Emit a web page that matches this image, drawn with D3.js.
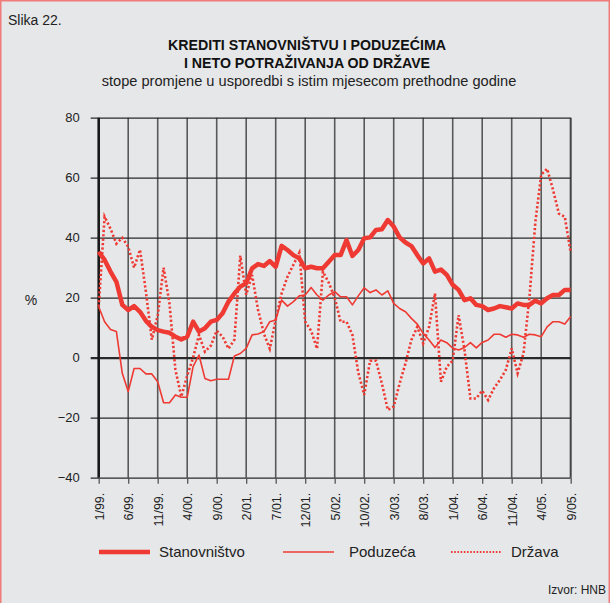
<!DOCTYPE html>
<html>
<head>
<meta charset="utf-8">
<script src="https://cdn.jsdelivr.net/npm/d3@7"></script>
<style>
  body { margin: 0; background: #fff; }
  svg { display: block; font-family: "Liberation Sans", Arial, sans-serif; }
</style>
</head>
<body>
<svg id="chart" width="610" height="603"></svg>
<script>
// monthly data, 1/99 .. 9/05
let tickLabels = ['1/99.', '6/99.', '11/99.', '4/00.', '9/00.', '2/01.', '7/01.', '12/01.', '5/02.',
  '10/02.', '3/03.', '8/03.', '1/04.', '6/04.', '11/04.', '4/05.', '9/05.']

let stanovnistvo = [35.3, 32.6, 28.7, 25.3, 17.6, 15.9, 17.2, 15.3, 12.3, 10.3,
  9.2, 8.7, 8.3, 7, 6.1, 7, 12, 8.7, 9.8, 12,
  12.6, 14.8, 18.7, 21.4, 23.7, 24.8, 29.8, 31.2, 30.6, 32.2,
  30.3, 37.3, 35.9, 34.2, 33.1, 29.8, 30.3, 29.8, 29.8, 32,
  34.2, 34.2, 39.2, 33.9, 35.9, 39.8, 40.1, 42.6, 42.8, 45.9,
  43.7, 40.1, 38.4, 37.2, 34.2, 31.4, 33.1, 28.7, 29.4, 27.6,
  24.3, 22.6, 19.2, 19.8, 17.6, 17.2, 15.9, 16.4, 17.2, 16.8,
  16.4, 18.1, 17.6, 17.6, 19, 18.1, 19.8, 20.9, 20.9, 22.6, 22.6]

let poduzeca = [17, 12, 9.4, 8.7, -5.2, -11.3, -3.6, -3.6, -5.4, -5.4,
  -8, -15, -15, -12.4, -13.2, -13.2, -3, 0.9, -6.9, -7.7,
  -7.2, -7.2, -7.2, 0.6, 1.4, 3.1, 7.6, 7.9, 8.7, 12,
  12.6, 19.2, 17.2, 18.7, 20.6, 20.9, 23.4, 20.9, 19.2, 20.9,
  22, 20.3, 20.3, 17.6, 20.6, 23.3, 21.7, 22.6, 20.9, 22.3,
  18.1, 16.4, 15.3, 13.1, 11.2, 8.1, 5.9, 3.4, 5.9, 5,
  3.2, 2.6, 3.4, 5, 3.3, 5.1, 5.9, 7.8, 7.8, 6.8,
  7.8, 7.6, 6.8, 7.8, 7.6, 7, 10.3, 12, 12, 11.2, 13.7]

let drzava = [17, 47, 43, 38, 40, 37, 30, 36, 22, 6,
  14, 30, 18, -4, -13, -6, 0, 7.6, 2, 4,
  9, 7, 3, 6, 34, 21, 27.6, 16, 8, 3,
  12.6, 21.4, 27, 31, 35, 12, 9, 3, 28.7, 25,
  20, 12, 12, 7.6, -5, -12.4, -1, -1, -8.6, -17.4,
  -16.3, -8.6, -1.9, 5.9, 10.3, 4.8, 10.3, 21.4, -8, -3,
  -1, 14.2, 2.6, -13.6, -13.6, -11, -14.1, -10.2, -7.4, -4.1,
  3.1, -5.2, 1.4, 20, 45, 61, 63, 56, 48, 47, 35]

let yTicks = [80, 60, 40, 20, 0, -20, -40]

const red = '#ee3a33'
const svg = d3.select('#chart')

svg.append('rect').attr('x', 0.75).attr('y', 0.75).attr('width', 608.5).attr('height', 605)
  .attr('fill', '#e6e7e9').attr('stroke', '#ef7c78').attr('stroke-width', 1.5)

svg.append('text').text('Slika 22.').attr('x', 8).attr('y', 25).attr('font-size', 14).attr('fill', '#222')
svg.append('text').text('KREDITI STANOVNIŠTVU I PODUZEĆIMA').attr('x', 307).attr('y', 50)
  .attr('text-anchor', 'middle').attr('font-size', 14.2).attr('font-weight', 'bold').attr('fill', '#111')
svg.append('text').text('I NETO POTRAŽIVANJA OD DRŽAVE').attr('x', 307).attr('y', 68)
  .attr('text-anchor', 'middle').attr('font-size', 14.2).attr('font-weight', 'bold').attr('fill', '#111')
svg.append('text').text('stope promjene u usporedbi s istim mjesecom prethodne godine').attr('x', 309).attr('y', 86)
  .attr('text-anchor', 'middle').attr('font-size', 14.6).attr('fill', '#222')

const padLeft = 98.7, padRight = 570.7, padTop = 117.7, padBottom = 477.7
const x = d3.scaleLinear().domain([0, 80]).range([padLeft, padRight])
const y = d3.scaleLinear().domain([-40, 80]).range([padBottom, padTop])

// vertical grid
const tickMonths = tickLabels.map((d, i) => i * 5)
svg.append('g').selectAll('line').data(tickMonths.slice(1)).join('line')
  .attr('x1', d => x(d)).attr('x2', d => x(d)).attr('y1', padTop).attr('y2', padBottom)
  .attr('stroke', d => d === 80 ? '#444' : '#595959').attr('stroke-width', d => d === 80 ? 2 : 1.6)

// horizontal grid + y axis
const yAxis = d3.axisLeft(y).tickValues(yTicks).tickSize(0)
  .tickFormat(d => d < 0 ? '\u2212' + Math.abs(d) : d)
const gy = svg.append('g').attr('transform', `translate(${padLeft},0)`).call(yAxis)
gy.select('.domain').remove()
gy.selectAll('.tick line').attr('stroke', '#2a2a2a').attr('stroke-width', d => d === 0 ? 2.2 : 1.3)
  .attr('x1', -8).attr('x2', padRight - padLeft)
gy.selectAll('.tick text').attr('x', -19).attr('font-size', 13)
  .attr('fill', '#222').attr('font-family', '"Liberation Sans", Arial, sans-serif')

svg.append('line').attr('x1', padLeft).attr('x2', padLeft).attr('y1', padTop).attr('y2', padBottom)
  .attr('stroke', '#1a1a1a').attr('stroke-width', 2.6)

svg.append('text').text('%').attr('x', 31).attr('y', 305).attr('text-anchor', 'middle')
  .attr('font-size', 14).attr('fill', '#222')

// x axis ticks + labels
const xAxis = d3.axisBottom(x).tickValues(tickMonths).tickSize(6).tickPadding(0)
  .tickFormat((d, i) => tickLabels[i])
const gx = svg.append('g').attr('transform', `translate(0,${padBottom})`).call(xAxis)
gx.select('.domain').remove()
gx.selectAll('.tick line').attr('stroke', '#555').attr('stroke-width', 1.3)
gx.selectAll('.tick text').attr('transform', 'rotate(-90)').attr('text-anchor', 'end')
  .attr('x', -15).attr('y', 0).attr('dy', '0.35em').attr('font-size', 12.5)
  .attr('fill', '#222').attr('font-family', '"Liberation Sans", Arial, sans-serif')

const line = d3.line().x((d, i) => x(i)).y(d => y(d))

svg.append('path').datum(drzava).attr('d', line).attr('fill', 'none').attr('stroke', red)
  .attr('stroke-width', 2.6).attr('stroke-dasharray', '2.2,2.2')
svg.append('path').datum(poduzeca).attr('d', line).attr('fill', 'none').attr('stroke', red)
  .attr('stroke-width', 1.6).attr('stroke-linejoin', 'round')
svg.append('path').datum(stanovnistvo).attr('d', line).attr('fill', 'none').attr('stroke', red)
  .attr('stroke-width', 4.5).attr('stroke-linejoin', 'round')

// legend
const legend = [
  {name: 'Stanovništvo', x: 99, w: 4.5, dash: null, tx: 60},
  {name: 'Poduzeća', x: 283, w: 1.6, dash: null, tx: 66},
  {name: 'Država', x: 451, w: 2, dash: '1.6,1.6', tx: 60}
]
const lg = svg.append('g').selectAll('g').data(legend).join('g')
lg.append('line').attr('x1', d => d.x).attr('x2', d => d.x + 51).attr('y1', 552).attr('y2', 552)
  .attr('stroke', red).attr('stroke-width', d => d.w).attr('stroke-dasharray', d => d.dash)
lg.append('text').text(d => d.name).attr('x', d => d.x + d.tx)
  .attr('y', 557).attr('font-size', 15).attr('fill', '#222')

svg.append('text').text('Izvor: HNB').attr('x', 606).attr('y', 594).attr('text-anchor', 'end')
  .attr('font-size', 12).attr('fill', '#222')
</script>
</body>
</html>
